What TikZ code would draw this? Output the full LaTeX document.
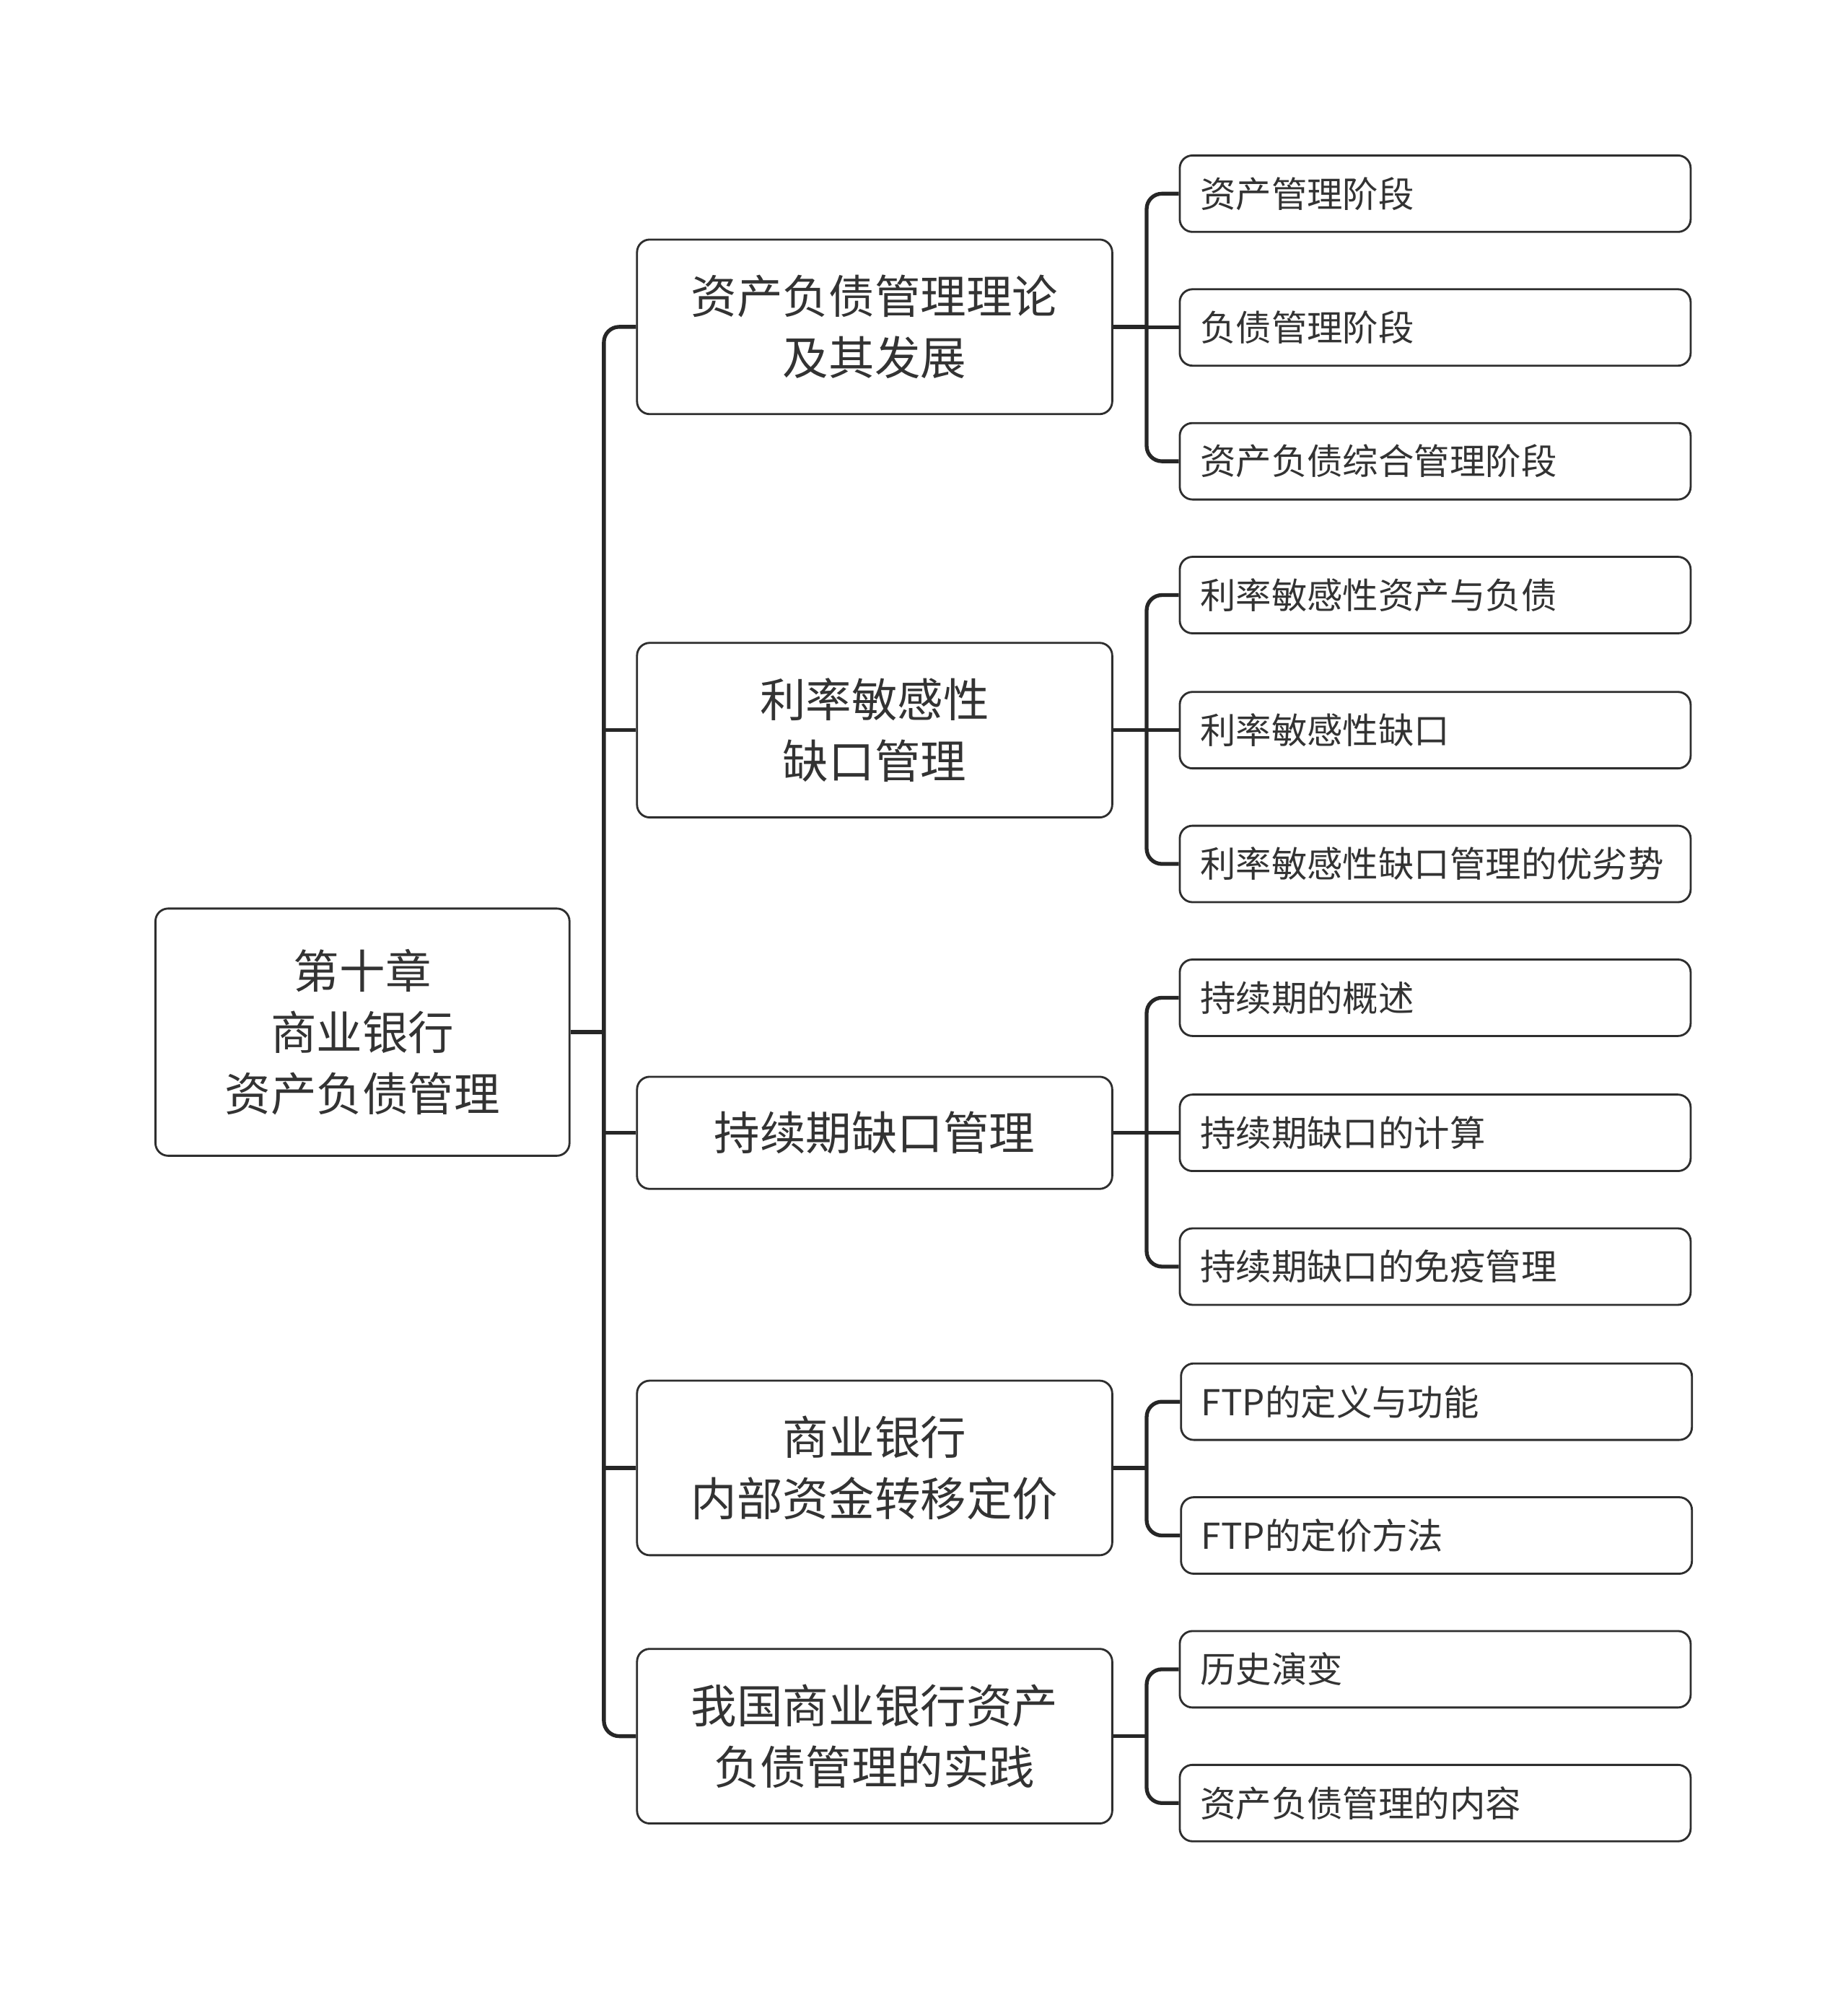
\documentclass[tikz,border=0pt]{standalone}
\usepackage{fontspec}
\newfontfamily\cjk{Noto Sans CJK SC}
\definecolor{boxc}{HTML}{2E2E2E}
\definecolor{linec}{HTML}{262626}
\definecolor{txt}{HTML}{333333}
\begin{document}
\begin{tikzpicture}[x=1pt,y=-1pt,
  base/.style={draw=boxc, line width=1.6pt, rounded corners=10pt, fill=white, text=txt},
  rootbox/.style={base, minimum width=325pt, minimum height=194pt, align=center,
    font=\cjk\fontsize{36}{48}\selectfont},
  lone/.style={base, minimum width=373pt, minimum height=137pt, align=center,
    font=\cjk\fontsize{36}{48}\selectfont},
  ltwo/.style={base, minimum height=60pt, text width=369pt, inner xsep=16pt, align=left,
    font=\cjk\fontsize{28}{34}\selectfont},
  conn/.style={draw=linec, line width=3pt, rounded corners=12pt}
]
\useasboundingbox (0,0) rectangle (1450,1567.2);

% root
\node[rootbox] (root) at (284.5,810) {第十章\\商业银行\\资产负债管理};

% level 1
\node[lone] (b1) at (686.5,256.5) {资产负债管理理论\\及其发展};
\node[lone] (b2) at (686.5,573) {利率敏感性\\缺口管理};
\node[lone, minimum height=88pt] (b3) at (686.5,889) {持续期缺口管理};
\node[lone] (b4) at (686.5,1152) {商业银行\\内部资金转移定价};
\node[lone] (b5) at (686.5,1362.5) {我国商业银行资产\\负债管理的实践};

% level 2
\node[ltwo] (s11) at (1126.5,152) {资产管理阶段};
\node[ltwo] (s12) at (1126.5,257) {负债管理阶段};
\node[ltwo] (s13) at (1126.5,362) {资产负债综合管理阶段};
\node[ltwo] (s21) at (1126.5,467) {利率敏感性资产与负债};
\node[ltwo] (s22) at (1126.5,573) {利率敏感性缺口};
\node[ltwo] (s23) at (1126.5,678) {利率敏感性缺口管理的优劣势};
\node[ltwo] (s31) at (1126.5,783) {持续期的概述};
\node[ltwo] (s32) at (1126.5,889) {持续期缺口的计算};
\node[ltwo] (s33) at (1126.5,994) {持续期缺口的免疫管理};
\node[ltwo] (s41) at (1127.5,1100) {FTP的定义与功能};
\node[ltwo] (s42) at (1127.5,1205) {FTP的定价方法};
\node[ltwo] (s51) at (1126.5,1310) {历史演变};
\node[ltwo] (s52) at (1126.5,1415) {资产负债管理的内容};

% junction coordinates
\coordinate (t0) at (474,810);
\coordinate (t1) at (900,256.5);
\coordinate (t2) at (900,573);
\coordinate (t3) at (900,889);
\coordinate (t4) at (900,1152);
\coordinate (t5) at (900,1362.5);

% root connectors
\draw[conn] (root.east) -- (t0);
\draw[conn] (b1.west) -| (t0) |- (b5.west);
\draw[conn] (t0 |- b2.west) -- (b2.west);
\draw[conn] (t0 |- b3.west) -- (b3.west);
\draw[conn] (t0 |- b4.west) -- (b4.west);

% group 1
\draw[conn] (b1.east) -- (t1);
\draw[conn] (s11.west) -| (t1) |- (s13.west);
\draw[conn] (t1 |- s12.west) -- (s12.west);
% group 2
\draw[conn] (b2.east) -- (t2);
\draw[conn] (s21.west) -| (t2) |- (s23.west);
\draw[conn] (t2 |- s22.west) -- (s22.west);
% group 3
\draw[conn] (b3.east) -- (t3);
\draw[conn] (s31.west) -| (t3) |- (s33.west);
\draw[conn] (t3 |- s32.west) -- (s32.west);
% group 4
\draw[conn] (b4.east) -- (t4);
\draw[conn] (s41.west) -| (t4) |- (s42.west);
% group 5
\draw[conn] (b5.east) -- (t5);
\draw[conn] (s51.west) -| (t5) |- (s52.west);
\end{tikzpicture}
\end{document}
